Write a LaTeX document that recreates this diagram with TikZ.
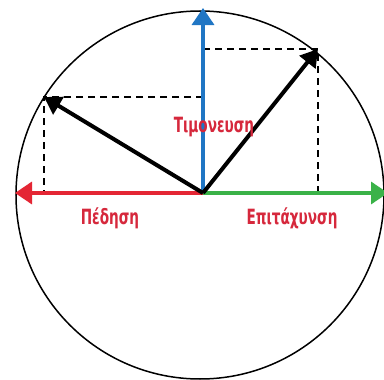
\documentclass[tikz,border=0pt]{standalone}
\usepackage{fontspec}
\setmainfont{DejaVu Sans Condensed}
\newfontfamily\lblfont[FakeStretch=0.72]{DejaVu Sans Condensed}
\usetikzlibrary{arrows.meta}
\definecolor{cred}{RGB}{228,38,52}
\definecolor{cblue}{RGB}{32,118,196}
\definecolor{cgreen}{RGB}{58,178,72}
\definecolor{ctext}{RGB}{214,40,60}
\tikzset{
  vec/.style={line width=4pt,-{Triangle[length=17pt,width=20pt]}},
  axis/.style={line width=3.4pt,-{Triangle[length=17pt,width=22pt]}},
  proj/.style={line width=1.5pt,dash pattern=on 7pt off 5pt},
  lbl/.style={text=ctext,font=\lblfont\bfseries\fontsize{21}{23}\selectfont,inner sep=0pt}
}
\begin{document}
\begin{tikzpicture}[x=1pt,y=-1pt]
\useasboundingbox[fill=white] (0,0) rectangle (384,380);
\node[circle,draw,line width=1.5pt,minimum size=368pt,inner sep=0pt] (C) at (200,195) {};
\coordinate (O) at (203,193);
\coordinate (T) at (203,8);
\coordinate (L) at (15,193);
\coordinate (R) at (388,193);
\coordinate (A) at (318,49);
\coordinate (B) at (44,97);
\draw[proj] (O |- A) -- (A) -- (A |- O);
\draw[proj] (O |- B) -- (B) -- (B |- O);
\draw[axis,cred] (O) -- (L);
\draw[axis,cgreen] (O) -- (R);
\draw[axis,cblue] (O) -- (T);
\draw[vec] (O) -- (A);
\draw[vec] (O) -- (B);
\node[lbl] (steer) at (214,127) {Τιμονευση};
\node[lbl] (brake) at (110,218) {Πέδηση};
\node[lbl] (accel) at (292,218) {Επιτάχυνση};
\end{tikzpicture}
\end{document}
